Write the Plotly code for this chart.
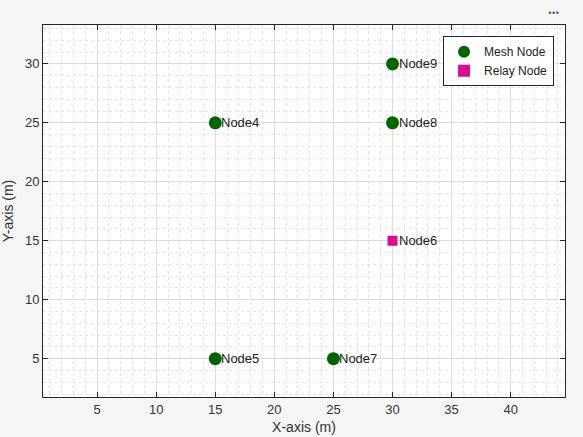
import plotly.graph_objects as go

mesh_x = [15, 15, 25, 30, 30]
mesh_y = [25, 5, 5, 25, 30]
mesh_names = ["Node4", "Node5", "Node7", "Node8", "Node9"]

relay_x = [30]
relay_y = [15]
relay_names = ["Node6"]

font = "Liberation Sans, Arial"

fig = go.Figure()

fig.add_trace(go.Scatter(
    x=mesh_x, y=mesh_y, mode="markers",
    marker=dict(symbol="circle", size=13, color="#006400"),
    name="Mesh Node"
))

fig.add_trace(go.Scatter(
    x=relay_x, y=relay_y, mode="markers",
    marker=dict(symbol="square", size=10, color="#dd0a93"),
    name="Relay Node"
))

# node labels sit just right of the marker
for xs, ys, names in [(mesh_x, mesh_y, mesh_names), (relay_x, relay_y, relay_names)]:
    for x, y, n in zip(xs, ys, names):
        fig.add_annotation(x=x, y=y, text=n, showarrow=False,
                           xanchor="left", yanchor="middle", xshift=4,
                           font=dict(family=font, size=13, color="#222"))

axis_style = dict(
    showline=True, linecolor="#262626", linewidth=1, mirror="ticks",
    ticks="inside", ticklen=5, tickcolor="#262626",
    showgrid=True, gridcolor="#dcdcdc", gridwidth=1,
    zeroline=False, automargin=False,
    tickfont=dict(family=font, size=13, color="#333"),
    minor=dict(dtick=1, showgrid=True, gridcolor="#e3e3e3", griddash="dot", ticks=""),
)

fig.update_xaxes(range=[0.42, 44.6], tickvals=[5, 10, 15, 20, 25, 30, 35, 40],
                 title=dict(text="X-axis (m)", font=dict(family=font, size=14, color="#333"), standoff=6),
                 **axis_style)
fig.update_yaxes(range=[1.75, 33.3], tickvals=[5, 10, 15, 20, 25, 30],
                 title=dict(text="Y-axis (m)", font=dict(family=font, size=14, color="#333"), standoff=8),
                 **axis_style)

# the little "more" dots above the top-right corner
fig.add_annotation(text="•••", xref="paper", yref="paper", x=0.992, y=1.0,
                   xanchor="right", yanchor="bottom", yshift=3, showarrow=False,
                   font=dict(size=10, color="#444"))

fig.update_layout(
    width=583, height=437,
    margin=dict(l=43, r=18, t=25, b=40),
    paper_bgcolor="#f5f5f5", plot_bgcolor="white",
    legend=dict(x=0.979, y=0.97, xanchor="right", yanchor="top",
                bgcolor="white", bordercolor="#262626", borderwidth=1,
                font=dict(family=font, size=12, color="#222"),
                itemsizing="constant", tracegroupgap=0, itemwidth=30),
    showlegend=True,
)

# drop the default page margin so the figure fills the window
fig.write_html("out.html", config={"displayModeBar": False},
               post_script="document.body.style.margin='0';")
